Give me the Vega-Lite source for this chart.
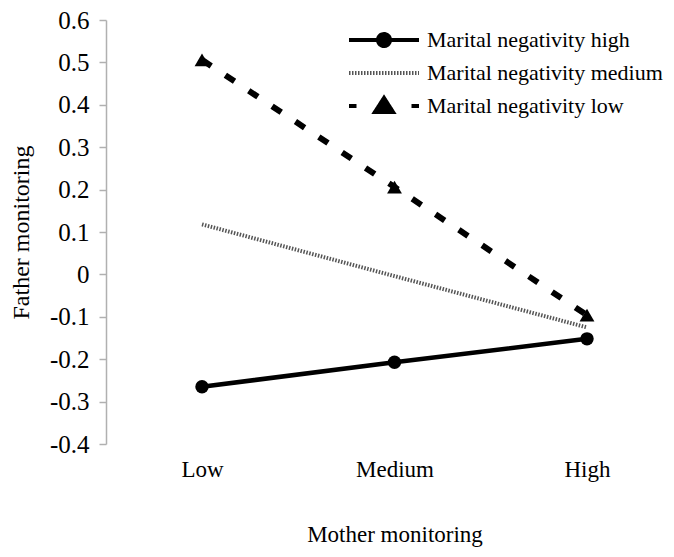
{
  "$schema": "https://vega.github.io/schema/vega-lite/v6.json",
  "autosize": "none",
  "padding": {"left": 106, "top": 20, "right": 0, "bottom": 113},
  "width": 568,
  "height": 424,
  "background": "white",
  "config": {"view": {"stroke": null}, "font": "Liberation Serif"},
  "data": {
    "values": [
      {"mother": "Low", "series": "Marital negativity high", "value": -0.265},
      {"mother": "Medium", "series": "Marital negativity high", "value": -0.207},
      {"mother": "High", "series": "Marital negativity high", "value": -0.152},
      {"mother": "Low", "series": "Marital negativity medium", "value": 0.118},
      {"mother": "Medium", "series": "Marital negativity medium", "value": -0.004},
      {"mother": "High", "series": "Marital negativity medium", "value": -0.125},
      {"mother": "Low", "series": "Marital negativity low", "value": 0.506},
      {"mother": "Medium", "series": "Marital negativity low", "value": 0.206},
      {"mother": "High", "series": "Marital negativity low", "value": -0.096}
    ]
  },
  "encoding": {
    "x": {
      "field": "mother", "type": "ordinal",
      "sort": ["Low", "Medium", "High"],
      "scale": {"type": "point", "range": [96, 481], "padding": 0},
      "axis": {
        "title": "Mother monitoring", "labelAngle": 0, "domain": false, "ticks": false,
        "labelPadding": 14, "labelFontSize": 23, "labelColor": "black", "labelFont": "Liberation Serif",
        "titleFontSize": 23, "titleFontWeight": "normal", "titleColor": "black", "titleFont": "Liberation Serif",
        "titlePadding": 42
      }
    },
    "y": {
      "field": "value", "type": "quantitative",
      "scale": {"domain": [-0.4, 0.6], "nice": false, "zero": false},
      "axis": {
        "title": "Father monitoring", "grid": false,
        "values": [-0.4, -0.3, -0.2, -0.1, 0, 0.1, 0.2, 0.3, 0.4, 0.5, 0.6],
        "labelExpr": "datum.value == 0 ? '0' : replace(format(datum.value, '.1f'), '\u2212', '-')",
        "domainColor": "#b0b0b0", "domainWidth": 1.5, "tickColor": "#b0b0b0", "tickSize": 7, "tickWidth": 1.5,
        "labelPadding": 10, "labelFontSize": 25, "labelColor": "black", "labelFont": "Liberation Serif",
        "titleFontSize": 24, "titleFontWeight": "normal", "titleColor": "black", "titleFont": "Liberation Serif",
        "titlePadding": 16
      }
    }
  },
  "layer": [
    {
      "transform": [{"filter": "datum.series == 'Marital negativity high'"}],
      "mark": {"type": "line", "strokeWidth": 4.5, "color": "black"},
      "encoding": {}
    },
    {
      "transform": [{"filter": "datum.series == 'Marital negativity medium'"}],
      "mark": {"type": "line", "strokeWidth": 4, "color": "#555555", "strokeDash": [1.5, 1.5]},
      "encoding": {}
    },
    {
      "transform": [{"filter": "datum.series == 'Marital negativity low'"}],
      "mark": {"type": "line", "strokeWidth": 6, "color": "black", "strokeDash": [11, 17], "strokeCap": "butt"},
      "encoding": {}
    },
    {
      "transform": [{"filter": "datum.series != 'Marital negativity medium'"}],
      "mark": {"type": "point", "filled": true, "color": "black", "opacity": 1},
      "encoding": {
        "shape": {
          "field": "series", "type": "nominal",
          "scale": {"domain": ["Marital negativity high", "Marital negativity low"], "range": ["circle", "triangle-up"]},
          "legend": null
        },
        "size": {
          "field": "series", "type": "nominal",
          "scale": {"domain": ["Marital negativity high", "Marital negativity low"], "range": [180, 220]},
          "legend": null
        }
      }
    },
    {
      "mark": {"type": "point", "filled": true, "fill": "black", "opacity": 0},
      "encoding": {
        "shape": {
          "field": "series", "type": "nominal",
          "scale": {
            "domain": ["Marital negativity high", "Marital negativity medium", "Marital negativity low"],
            "range": [
              "M-1,0H6M3.1,0A0.6,0.6,0,1,1,1.9,0A0.6,0.6,0,1,1,3.1,0Z",
              "M-1,0H6",
              "M-1,0H-0.25M5.25,0H6M2.5,-0.8L3.4,0.6L1.6,0.6Z"
            ]
          },
          "legend": {
            "orient": "none", "legendX": 241, "legendY": 8, "title": null, "padding": 0,
            "symbolSize": 400, "symbolStrokeWidth": 4, "symbolFillColor": "black", "symbolOpacity": 1,
            "labelFont": "Liberation Serif", "labelFontSize": 22, "labelColor": "black", "labelOffset": 56,
            "labelLimit": 400, "rowPadding": 6
          }
        },
        "stroke": {
          "field": "series", "type": "nominal",
          "scale": {"domain": ["Marital negativity high", "Marital negativity medium", "Marital negativity low"], "range": ["black", "#555555", "black"]}
        },
        "strokeDash": {
          "field": "series", "type": "nominal",
          "scale": {"domain": ["Marital negativity high", "Marital negativity medium", "Marital negativity low"], "range": [[1, 0], [1.5, 1.5], [1, 0]]}
        }
      }
    }
  ],
  "resolve": {
    "scale": {"shape": "independent", "stroke": "independent", "strokeDash": "independent", "size": "independent"},
    "legend": {"shape": "independent", "stroke": "independent", "strokeDash": "independent", "size": "independent"}
  }
}
